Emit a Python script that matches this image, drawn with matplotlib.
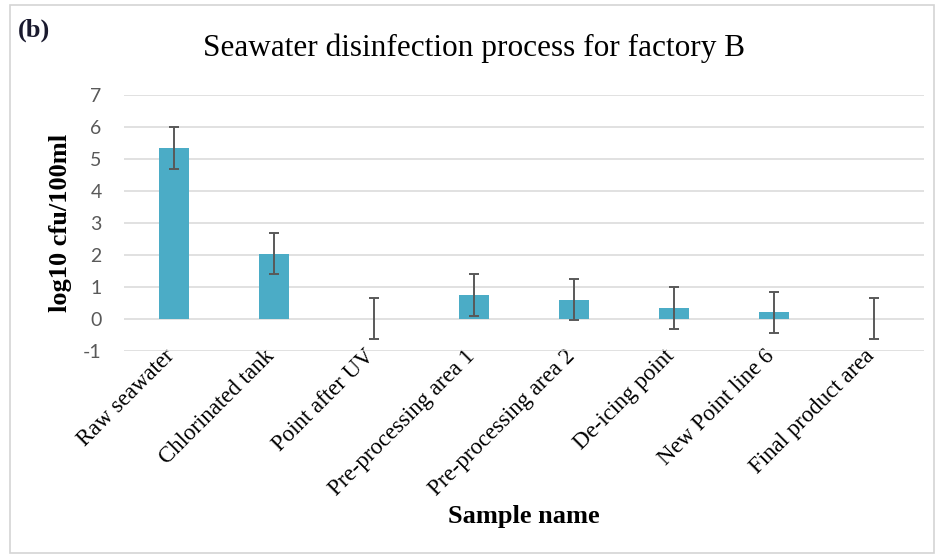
import matplotlib.pyplot as plt
import matplotlib.transforms as mtransforms
from matplotlib.patches import Rectangle

# sample points and mean counts with their error bars
samples = ["Raw seawater", "Chlorinated tank", "Point after UV", "Pre-processing area 1",
           "Pre-processing area 2", "De-icing point", "New Point line 6", "Final product area"]
log_counts = [5.35, 2.04, 0.0, 0.74, 0.60, 0.34, 0.20, 0.0]
errors = [0.65, 0.64, 0.64, 0.65, 0.65, 0.65, 0.65, 0.64]
yticks = [-1, 0, 1, 2, 3, 4, 5, 6, 7]

fig = plt.figure(figsize=(9.38, 5.56), dpi=100)
ax = fig.add_axes([0.132, 0.369, 0.853, 0.46])

# thin grey frame around the whole figure
fig.patches.append(Rectangle((0.011, 0.006), 0.985, 0.985, transform=fig.transFigure,
                             fill=False, edgecolor="#d4d4d4", linewidth=1.2))

x = range(len(samples))
ax.bar(x, log_counts, width=0.3, color="#4bacc6", zorder=2)
ax.errorbar(x, log_counts, yerr=errors, fmt="none", ecolor="#595959",
            elinewidth=1.4, capsize=3.6, capthick=1.4, zorder=3)

ax.set_xlim(-0.5, len(samples) - 0.5)
ax.set_ylim(-1, 7)
ax.set_yticks(yticks)
ax.set_yticklabels([str(t) for t in yticks], family="Lato", fontsize=14, color="#595959")
ax.yaxis.grid(True, color="#d9d9d9", linewidth=1.1, zorder=0)
ax.tick_params(axis="both", length=0)
ax.tick_params(axis="y", pad=16)
for s in ax.spines.values():
    s.set_visible(False)

ax.set_xticks(list(x))
ax.set_xticklabels(samples, rotation=45, ha="right", va="top",
                   family="Liberation Serif", fontsize=16.5)
ax.tick_params(axis="x", pad=0)
# slide the slanted labels so their upper end sits right under each tick
shift = mtransforms.ScaledTranslation(5 / 100, 5 / 100, fig.dpi_scale_trans)
for lbl in ax.get_xticklabels():
    lbl.set_transform(lbl.get_transform() + shift)

fig.text(0.505, 0.899, "Seawater disinfection process for factory B",
         family="Liberation Serif", fontsize=22.5, ha="center", va="baseline")
fig.text(0.019, 0.935, "(b)", family="Liberation Serif", fontweight="bold",
         fontsize=19, color="#1a1a2e", ha="left", va="baseline")
fig.text(0.064, 0.599, "log10 cfu/100ml", family="Liberation Serif", fontweight="bold",
         fontsize=19, rotation=90, ha="center", va="center")
fig.text(0.558, 0.059, "Sample name", family="Liberation Serif", fontweight="bold",
         fontsize=19, ha="center", va="baseline")

fig.savefig("out.png", dpi=100)
